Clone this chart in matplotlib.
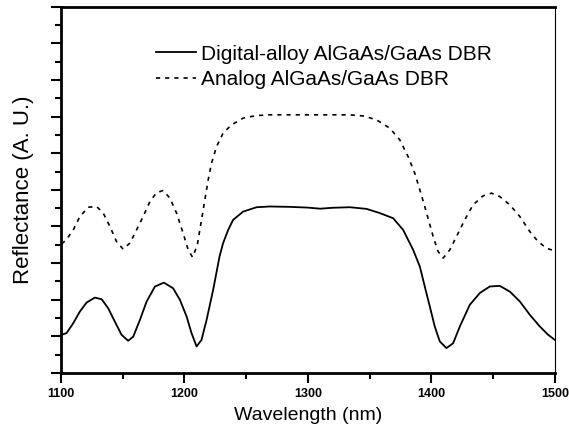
import matplotlib.pyplot as plt

plt.rcParams['font.family'] = ['Liberation Sans', 'DejaVu Sans']

# Digital-alloy AlGaAs/GaAs DBR (solid)
wl_digital = [1100.6, 1104.6, 1110.0, 1115.4, 1120.8, 1127.5, 1133.0, 1138.3,
              1143.7, 1149.1, 1154.5, 1158.6, 1164.0, 1169.4, 1176.1, 1183.4,
              1190.9, 1196.4, 1201.8, 1205.8, 1209.9, 1213.9, 1218.0, 1223.3,
              1228.5, 1231.4, 1235.5, 1239.5, 1247.6, 1258.5, 1269.2, 1285,
              1300, 1310, 1320, 1334, 1347.5, 1358.3, 1369.1, 1377.2, 1385.3,
              1390.7, 1394.7, 1398.8, 1402.8, 1406.9, 1412.3, 1417.7, 1423.1,
              1431.2, 1439.3, 1447.4, 1455.5, 1463.6, 1471.7, 1479.8, 1487.9,
              1494.6, 1500]
r_digital = [2.08, 2.17, 2.71, 3.35, 3.84, 4.11, 4.02, 3.53,
             2.80, 2.08, 1.75, 1.98, 2.89, 3.89, 4.71, 4.93,
             4.62, 3.99, 3.08, 2.17, 1.44, 1.80, 2.89, 4.53,
             6.36, 7.09, 7.81, 8.36, 8.81, 9.05, 9.09, 9.07,
             9.03, 8.97, 9.02, 9.05, 8.96, 8.73, 8.45, 7.81, 6.72,
             5.81, 4.72, 3.62, 2.53, 1.71, 1.35, 1.62, 2.53,
             3.72, 4.36, 4.72, 4.75, 4.44, 3.90, 3.17, 2.53,
             2.08, 1.80]

# Analog AlGaAs/GaAs DBR (dashed)
wl_analog = [1100.5, 1104.0, 1110.0, 1115.4, 1122.1, 1128.9, 1134.3, 1139.7,
             1145.1, 1150.4, 1155.9, 1161.3, 1166.6, 1172.1, 1177.5, 1182.8,
             1188.3, 1193.7, 1199.0, 1203.1, 1206.6, 1210.4, 1213.9, 1216.6,
             1219.3, 1222.0, 1226.1, 1231.4, 1238.2, 1247.6, 1258.5, 1269.2,
             1300, 1334, 1344.8, 1355.6, 1366.4, 1374.5, 1381.2, 1386.6,
             1390.7, 1394.7, 1398.0, 1401.5, 1405.5, 1409.6, 1415.0, 1420.4,
             1427.1, 1433.8, 1441.9, 1448.7, 1455.5, 1463.6, 1471.7, 1479.8,
             1486.5, 1493.3, 1500]
r_analog = [7.05, 7.23, 7.81, 8.54, 9.05, 9.09, 8.73, 8.00,
            7.17, 6.76, 7.09, 7.81, 8.54, 9.36, 9.85, 9.96,
            9.55, 8.73, 7.63, 6.72, 6.32, 6.95, 8.36, 9.45,
            10.55, 11.46, 12.37, 13.10, 13.55, 13.92, 14.06, 14.10,
            14.10, 14.10, 14.04, 13.83, 13.37, 12.73, 11.82, 10.91,
            10.00, 9.09, 8.30, 7.45, 6.63, 6.27, 6.72, 7.45,
            8.36, 9.18, 9.67, 9.82, 9.63, 9.18, 8.54, 7.72,
            7.17, 6.81, 6.66]

fig, ax = plt.subplots(figsize=(5.69, 4.30), dpi=100)
fig.subplots_adjust(left=0.107, right=0.975, bottom=0.133, top=0.984)

ax.plot(wl_digital, r_digital, color='black', linewidth=1.3,
        label='Digital-alloy AlGaAs/GaAs DBR')
ax.plot(wl_analog, r_analog, color='black', linewidth=1.2, dashes=(2.5, 3),
        label='Analog AlGaAs/GaAs DBR')

ax.set_xlim(1100, 1500)
ax.set_ylim(0, 20)
ax.set_xticks([1100, 1200, 1300, 1400, 1500])
ax.set_xticks(range(1150, 1500, 100), minor=True)
ax.set_yticks(range(0, 21, 2))
ax.set_yticks(range(1, 20, 2), minor=True)
ax.set_yticklabels([])
ax.tick_params(axis='both', which='major', direction='out', length=7, width=1.5)
ax.tick_params(axis='both', which='minor', direction='out', length=4, width=1.5)
ax.tick_params(axis='x', labelsize=9, pad=4)
for lab in ax.get_xticklabels():
    lab.set_fontweight('bold')

for side in ['left', 'bottom', 'top']:
    ax.spines[side].set_linewidth(2)
ax.spines['right'].set_linewidth(0.8)

ax.set_xlabel('Wavelength (nm)', fontsize=14, labelpad=5)
ax.set_ylabel('Reflectance (A. U.)', fontsize=16, labelpad=9)

ax.legend(loc='upper left', bbox_to_anchor=(0.155, 0.948), frameon=False,
          fontsize=15, handlelength=1.9, handletextpad=0.25, labelspacing=0.3)

fig.savefig('out.png', dpi=100)
